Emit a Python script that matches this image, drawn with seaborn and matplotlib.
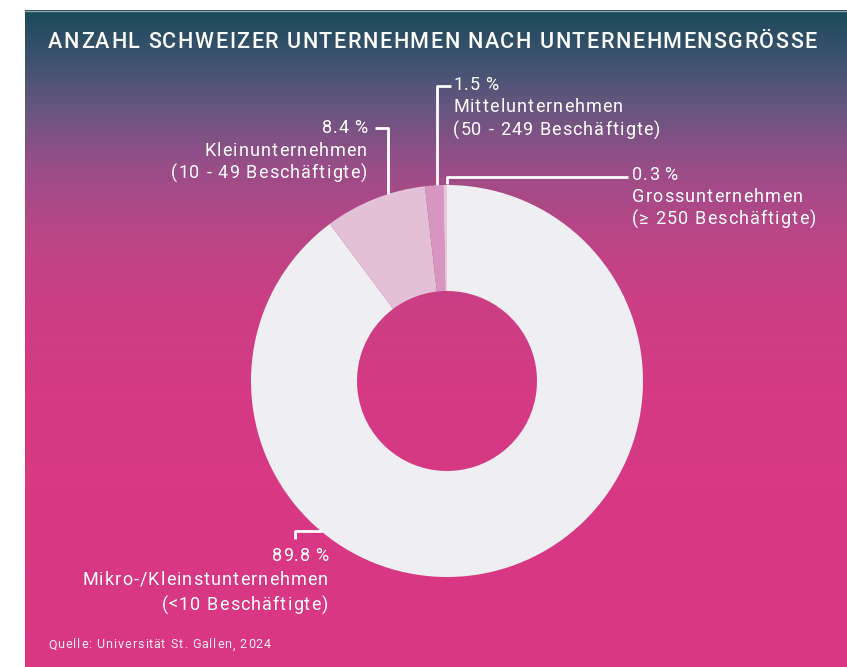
import matplotlib.pyplot as plt
import matplotlib.colors as mcolors
from matplotlib.font_manager import FontProperties
import numpy as np
import seaborn as sns

sns.set_style("white")
plt.rcParams["font.family"] = ["Roboto", "DejaVu Sans"]

# data
categories = ["Mikro-/Kleinstunternehmen", "Kleinunternehmen", "Mittelunternehmen", "Grossunternehmen"]
shares = [89.8, 8.4, 1.5, 0.3]
sublabels = ["(<10 Beschäftigte)", "(10 - 49 Beschäftigte)", "(50 - 249 Beschäftigte)", "(≥ 250 Beschäftigte)"]
slice_colors = ["#efeef0", "#e2c0d8", "#d796bf", "#e6c8dc"]

title = "ANZAHL SCHWEIZER UNTERNEHMEN NACH UNTERNEHMENSGRÖSSE"
source = "Quelle: Universität St. Gallen, 2024"

W, H = 847, 667
THIN = "\u2009"


def py(y):
    # pixel row (from top) -> data y
    return H - y


fig = plt.figure(figsize=(W / 100, H / 100), dpi=100)
fig.patch.set_facecolor("white")
ax = fig.add_axes([0, 0, 1, 1])
renderer = fig.canvas.get_renderer()


def text_width(s, prop):
    # width in pixels, trailing spaces kept by measuring against a marker
    w1, _, _ = renderer.get_text_width_height_descent(s + "x", prop, ismath=False)
    w2, _, _ = renderer.get_text_width_height_descent("x", prop, ismath=False)
    return w1 - w2


def spaced_text(x, y, s, ha="left", track=1.0, size=13, weight="normal", **kw):
    # letter-spaced text, one glyph at a time (axes data == pixels)
    prop = FontProperties(family=["Roboto", "DejaVu Sans"], size=size, weight=weight)
    widths = [2.5 if ch == THIN else text_width(ch, prop) for ch in s]
    total = sum(widths) + track * (len(s) - 1)
    x0 = x - total if ha == "right" else x
    off = 0.0
    for ch, w in zip(s, widths):
        if not ch.isspace():
            ax.text(x0 + off, y, ch, ha="left", va="center", fontproperties=prop, **kw)
        off += w + track


# background gradient panel
stops = [(10, "#1c4a5a"), (60, "#3f5370"), (110, "#6b5680"), (170, "#9c4d88"),
         (230, "#b84687"), (300, "#cb3f85"), (400, "#d63a83"), (667, "#da3783")]
pos = [(s[0] - 10) / (667 - 10) for s in stops]
cmap = mcolors.LinearSegmentedColormap.from_list("bg", list(zip(pos, [s[1] for s in stops])))
grad = np.linspace(0, 1, 400).reshape(-1, 1)
ax.imshow(grad, cmap=cmap, aspect="auto", extent=(25, W, py(667), py(10)),
          origin="upper", zorder=0, interpolation="bilinear")
ax.plot([25, W], [py(10.5), py(10.5)], color="#8fa3aa", lw=1, zorder=1)

# donut
cx, cy, R = 447, py(381), 196
ax.pie(shares, colors=slice_colors, startangle=90, counterclock=False,
       center=(cx, cy), radius=R, frame=True,
       wedgeprops=dict(width=R - 90, linewidth=0))

ax.set_xlim(0, W)
ax.set_ylim(0, H)
ax.set_aspect("equal")
ax.axis("off")

lw = 2.0
# leader lines
ax.plot([375, 388, 388], [py(128), py(128), py(194)], color="white", lw=lw, zorder=3, solid_capstyle="butt")
ax.plot([437, 437, 451], [py(185), py(86), py(86)], color="white", lw=lw, zorder=3, solid_capstyle="butt")
ax.plot([447, 447, 628], [py(184), py(177), py(177)], color="white", lw=lw, zorder=3, solid_capstyle="butt")
ax.plot([295, 295, 322], [py(539), py(531), py(531)], color="white", lw=lw, zorder=3, solid_capstyle="butt")

label_pos = [
    (328, [556, 580, 605], "right"),
    (367, [128, 151, 173], "right"),
    (453, [85, 107, 130], "left"),
    (632, [175, 197, 219], "left"),
]
for i, (x, ys, ha) in enumerate(label_pos):
    lines = [f"{shares[i]:.1f}{THIN}%", categories[i], sublabels[i]]
    for line, y in zip(lines, ys):
        spaced_text(x, py(y), line, ha=ha, track=1.1, size=13, color="white", zorder=4)

spaced_text(48, py(43), title, track=1.5, size=15.5, weight="medium", color="white", zorder=4)
spaced_text(48, py(645), source, track=0.9, size=9, color="white", zorder=4, alpha=0.9)

fig.savefig("out.png", dpi=100)
